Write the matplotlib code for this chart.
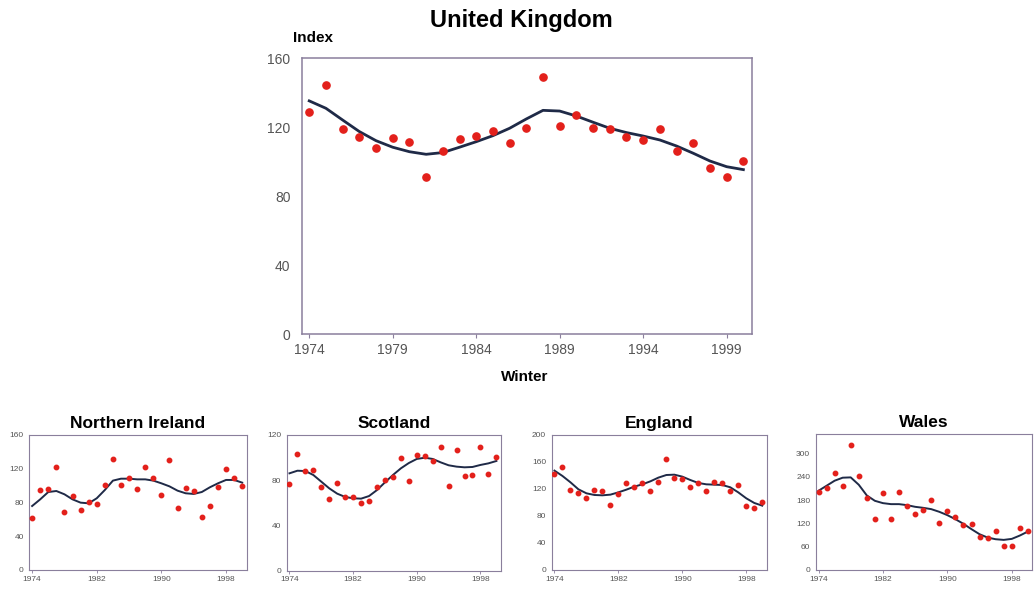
import numpy as np
import matplotlib
matplotlib.use("Agg")
import matplotlib.pyplot as plt

plt.rcParams['font.family'] = ['Liberation Sans', 'DejaVu Sans']

years = list(range(1974, 2001))

uk_index = [128.9, 144.3, 118.8, 114.3, 107.8, 113.8, 111.4, 91.3, 106.0, 113.2,
            114.9, 117.6, 111.1, 119.4, 149.4, 120.5, 127.3, 119.8, 119.0, 114.3,
            112.4, 119.2, 106.4, 110.7, 96.5, 90.9, 100.2]
uk_trend = [135.3, 131.0, 124.2, 117.5, 112.2, 108.4, 105.8, 104.3, 105.3, 108.4,
            111.6, 115.1, 119.4, 124.8, 129.8, 129.4, 126.5, 122.9, 119.4, 116.9,
            114.9, 112.6, 109.1, 104.9, 100.4, 97.1, 95.4]

ni_index = [61.2, 94.8, 96.0, 122.0, 68.7, 87.3, 70.7, 80.2, 78.2, 100.7,
            131.9, 101.1, 109.0, 95.6, 122.0, 109.0, 89.3, 130.4, 73.5, 97.6,
            93.6, 62.4, 76.2, 98.4, 119.7, 109.4, 99.9]
ni_trend = [75.8, 83.7, 92.4, 93.6, 89.7, 83.7, 79.8, 79.0, 85.0, 94.8,
            105.9, 108.2, 108.2, 107.4, 107.4, 105.9, 102.7, 99.1, 94.0, 90.9,
            90.1, 92.4, 98.0, 102.7, 106.7, 106.7, 103.5]

sc_index = [76.4, 102.9, 88.1, 89.0, 74.3, 63.1, 77.2, 65.2, 65.2, 59.5,
            61.6, 73.7, 80.5, 82.8, 99.9, 79.3, 102.6, 101.7, 97.0, 109.4,
            75.2, 106.7, 83.4, 84.3, 109.4, 85.2, 100.2]
sc_trend = [86.1, 88.4, 88.1, 84.6, 78.7, 72.8, 68.1, 65.2, 64.0, 63.7,
            66.0, 71.3, 78.1, 84.6, 90.5, 95.2, 98.8, 99.9, 98.8, 95.8,
            93.2, 92.0, 91.4, 91.7, 93.5, 94.9, 97.0]

en_index = [142.7, 153.1, 118.5, 114.1, 106.7, 118.0, 117.0, 96.3, 112.1, 128.9,
            123.0, 128.9, 117.0, 129.9, 164.4, 136.3, 134.8, 123.0, 128.9, 116.5,
            130.9, 128.9, 116.5, 126.4, 94.8, 91.4, 101.2]
en_trend = [147.2, 139.3, 129.9, 119.5, 113.6, 111.1, 110.6, 111.6, 115.0, 119.0,
            123.5, 126.9, 131.3, 136.8, 140.7, 141.2, 138.3, 133.3, 128.9, 126.9,
            126.4, 125.9, 122.5, 115.0, 106.2, 99.3, 95.3]

wa_index = [201.7, 212.0, 249.0, 215.5, 322.4, 242.2, 186.2, 131.0, 198.3, 131.0,
            201.7, 163.8, 144.8, 154.3, 180.2, 121.6, 150.9, 136.2, 116.4, 119.8,
            84.5, 83.6, 100.0, 62.1, 62.1, 107.8, 100.0]
wa_trend = [204.3, 217.2, 230.2, 238.0, 238.8, 219.8, 192.2, 178.4, 172.4, 169.8,
            169.8, 167.2, 162.9, 160.3, 156.9, 150.0, 141.4, 131.0, 119.0, 105.2,
            92.2, 83.6, 79.3, 77.6, 80.2, 88.8, 99.1]

spine_col = '#8a7f9c'
tick_col = '#555555'
line_col = '#1f2a47'
dot_col = '#e3201b'

fig = plt.figure(figsize=(10.35, 5.89), dpi=100)


def style(ax, lw):
    for s in ax.spines.values():
        s.set_color(spine_col)
        s.set_linewidth(lw)


# main UK chart
ax = fig.add_axes([0.2915, 0.4329, 0.4348, 0.4681])
ax.plot(years, uk_trend, color=line_col, lw=2.0, zorder=2)
ax.plot(years, uk_index, 'o', color=dot_col, ms=5.2, zorder=3)
ax.set_xlim(1973.55, 2000.5)
ax.set_ylim(0, 160)
ax.set_yticks([0, 40, 80, 120, 160])
ax.set_xticks([1974, 1979, 1984, 1989, 1994, 1999])
ax.tick_params(axis='both', colors=spine_col, labelcolor=tick_col, labelsize=10,
               length=3, width=0.8)
ax.tick_params(axis='y', length=0, pad=8)
style(ax, 1.1)
fig.text(0.504, 0.966, 'United Kingdom', ha='center', va='center',
         fontsize=17, fontweight='bold')
fig.text(0.302, 0.936, 'Index', ha='center', va='center',
         fontsize=11, fontweight='bold')
fig.text(0.507, 0.36, 'Winter', ha='center', va='center',
         fontsize=11, fontweight='bold')

# small regional charts
small = [
    ('Northern Ireland', ni_index, ni_trend, [0.0283, 0.0323, 0.2100, 0.2292],
     [0, 40, 80, 120, 160], 160),
    ('Scotland', sc_index, sc_trend, [0.2770, 0.0311, 0.2068, 0.2304],
     [0, 40, 80, 120], 120),
    ('England', en_index, en_trend, [0.5330, 0.0323, 0.2077, 0.2292],
     [0, 40, 80, 120, 160, 200], 200),
    ('Wales', wa_index, wa_trend, [0.7881, 0.0323, 0.2093, 0.2304],
     [0, 60, 120, 180, 240, 300], 350),
]

for name, idx, trend, rect, yt, ytop in small:
    a = fig.add_axes(rect)
    a.plot(years, trend, color=line_col, lw=1.4, zorder=2)
    a.plot(years, idx, 'o', color=dot_col, ms=3.2, zorder=3)
    a.set_xlim(1973.65, 2000.55)
    a.set_ylim(0, ytop)
    a.set_yticks(yt)
    a.set_xticks([1974, 1982, 1990, 1998])
    a.tick_params(axis='both', colors=spine_col, labelcolor=tick_col, labelsize=6,
                  length=2, width=0.6, pad=2)
    a.tick_params(axis='y', length=0, pad=4)
    style(a, 0.8)
    a.set_title(name, fontsize=12.5, fontweight='bold', pad=5)

fig.savefig('out.png', dpi=100)
